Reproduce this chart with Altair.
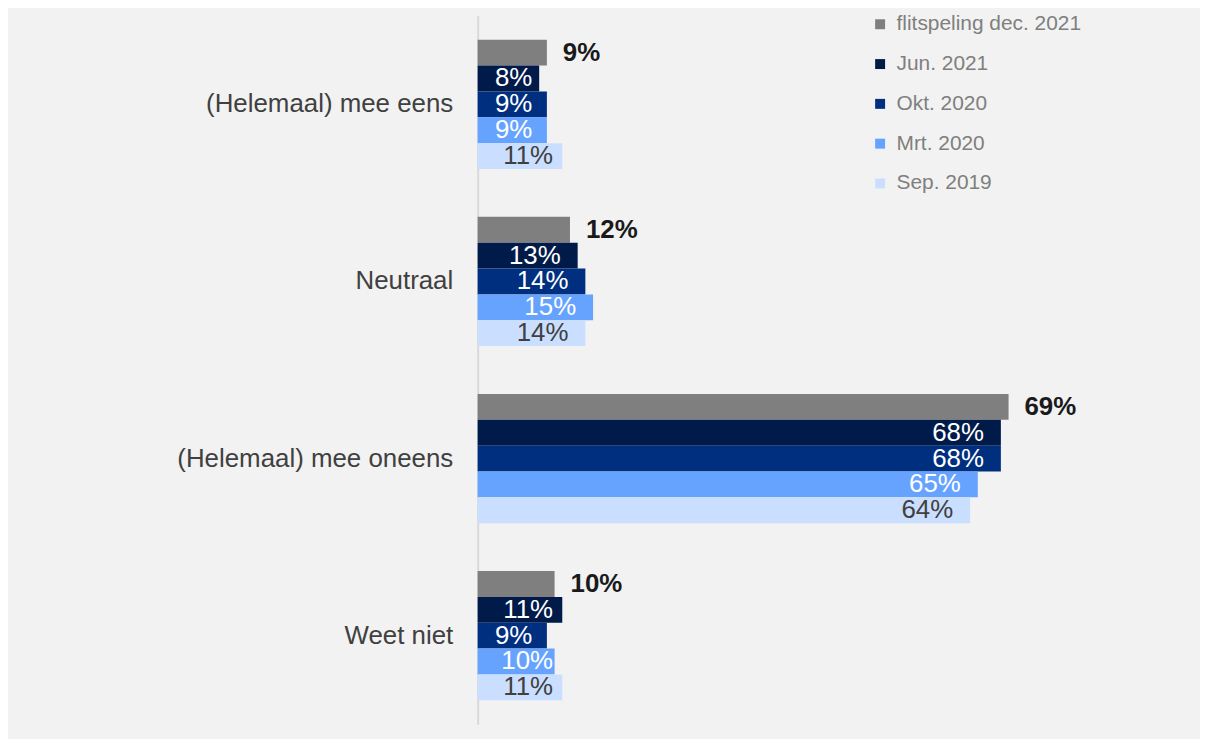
import altair as alt
import pandas as pd

categories = ["(Helemaal) mee eens", "Neutraal", "(Helemaal) mee oneens", "Weet niet"]
series = ["flitspeling dec. 2021", "Jun. 2021", "Okt. 2020", "Mrt. 2020", "Sep. 2019"]
flitspeling_dec_2021 = [9, 12, 69, 10]
jun_2021 = [8, 13, 68, 11]
okt_2020 = [9, 14, 68, 9]
mrt_2020 = [9, 15, 65, 10]
sep_2019 = [11, 14, 64, 11]
colors = ["#7f7f7f", "#001a4a", "#002f80", "#66a3ff", "#cadfff"]

values_by_series = [flitspeling_dec_2021, jun_2021, okt_2020, mrt_2020, sep_2019]
rows = []
for s, vals in zip(series, values_by_series):
    for c, v in zip(categories, vals):
        rows.append({"category": c, "series": s, "value": v, "label": f"{v}%"})
df = pd.DataFrame(rows)

FONT = "Liberation Sans"

y_enc = alt.Y(
    "category:N",
    sort=categories,
    title=None,
    scale=alt.Scale(paddingInner=0.27, paddingOuter=0.135),
    axis=alt.Axis(
        labelFontSize=26,
        labelColor="#404040",
        labelPadding=25,
        labelLimit=0,
        ticks=False,
        domainColor="#d9d9d9",
        domainWidth=2,
        labelFont=FONT,
    ),
)
yoff_enc = alt.YOffset(
    "series:N", sort=series, scale=alt.Scale(domain=series, paddingInner=0, paddingOuter=0)
)
x_enc = alt.X("value:Q", axis=None, scale=alt.Scale(domain=[0, 90], nice=False))

base = alt.Chart(df)

bars = base.mark_bar().encode(
    x=x_enc,
    y=y_enc,
    yOffset=yoff_enc,
    color=alt.Color(
        "series:N",
        sort=series,
        scale=alt.Scale(domain=series, range=colors),
        legend=alt.Legend(
            title=None,
            orient="none",
            legendX=394,
            legendY=-2,
            symbolType="square",
            symbolSize=100,
            symbolStrokeWidth=0,
            labelFontSize=21,
            labelColor="#7f7f7f",
            labelFont=FONT,
            labelLimit=0,
            rowPadding=18,
            labelOffset=6,
            padding=0,
        ),
    ),
)

bold_labels = (
    base.transform_filter(alt.datum.series == series[0])
    .mark_text(align="left", baseline="middle", dx=16, fontSize=26, fontWeight="bold", color="#1a1a1a", font=FONT)
    .encode(x=x_enc, y=y_enc, yOffset=yoff_enc, text="label:N")
)

inner_labels = (
    base.transform_filter(alt.datum.series != series[0])
    .transform_calculate(labx="max(datum.value, length(datum.label) == 2 ? 9.3 : 12)")
    .mark_text(align="right", baseline="middle", dx=-17, fontSize=26, font=FONT)
    .encode(
        x=alt.X("labx:Q", axis=None, scale=alt.Scale(domain=[0, 90], nice=False)),
        y=y_enc,
        yOffset=yoff_enc,
        text="label:N",
        color=alt.condition(alt.datum.series == series[4], alt.value("#404040"), alt.value("#ffffff")),
    )
)

chart = (
    alt.layer(bars, bold_labels, inner_labels)
    .properties(
        width=696,
        height=712,
        background="#f2f2f2",
        padding={"left": 169, "top": 4, "right": 30, "bottom": 13},
    )
    .configure(font=FONT)
    .configure_view(strokeWidth=0)
)

chart.save("out.html", embed_options={"renderer": "svg", "actions": False})
